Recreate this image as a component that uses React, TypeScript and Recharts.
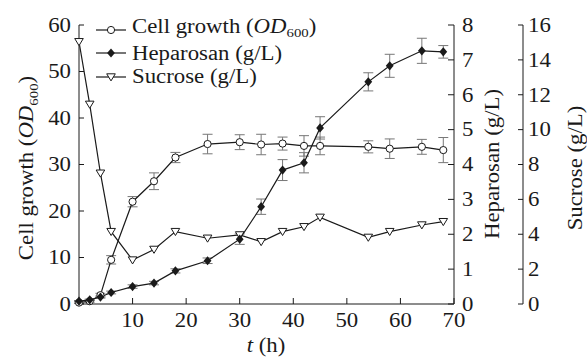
import React from 'react'
import {
  ComposedChart,
  Line,
  XAxis,
  YAxis,
  ErrorBar,
  Legend,
} from 'recharts'

const times = [0, 2, 4, 6, 10, 14, 18, 24, 30, 34, 38, 42, 45, 54, 58, 64, 68]
const cellGrowth = [0.3, 0.6, 1.9, 9.5, 22.0, 26.4, 31.5, 34.4, 34.8, 34.3, 34.5, 34.0, 34.0, 33.8, 33.4, 33.8, 33.1]
const cellGrowthErr = [0.2, 0.2, 0.4, 0.9, 1.1, 1.8, 1.1, 2.1, 1.6, 2.2, 1.4, 2.2, 1.9, 1.3, 2.1, 1.6, 2.7]
const heparosan = [0.08, 0.12, 0.2, 0.33, 0.5, 0.6, 0.95, 1.24, 1.86, 2.79, 3.84, 4.05, 5.05, 6.37, 6.83, 7.26, 7.23]
const heparosanErr = [0.02, 0.02, 0.03, 0.04, 0.05, 0.05, 0.06, 0.08, 0.15, 0.22, 0.3, 0.29, 0.32, 0.26, 0.33, 0.36, 0.18]
const sucrose = [15.04, 11.45, 7.5, 4.15, 2.52, 3.13, 4.15, 3.77, 3.96, 3.57, 4.15, 4.43, 4.97, 3.82, 4.15, 4.53, 4.72]

const xTicks = [10, 20, 30, 40, 50, 60, 70]
const odTicks = [0, 10, 20, 30, 40, 50, 60]
const hepTicks = [0, 1, 2, 3, 4, 5, 6, 7, 8]
const sucTicks = [0, 2, 4, 6, 8, 10, 12, 14, 16]

const data = times.map((t, i) => ({
  t,
  od: cellGrowth[i],
  odErr: cellGrowthErr[i],
  hep: heparosan[i],
  hepErr: heparosanErr[i],
  suc: sucrose[i],
}))

// the reference type is Times, set a bit wide
const FONT = '"Liberation Serif", "Times New Roman", serif'
const FS = 20
const SX = 1.14
const INK = '#1a1a1a'

const Tick = ({ x, y, payload, anchor, dy }: any) => (
  <text
    transform={`translate(${x},${y}) scale(${SX},1)`}
    textAnchor={anchor}
    dy={dy}
    fontFamily={FONT}
    fontSize={FS}
    fill={INK}
  >
    {payload.value}
  </text>
)

const CircleMark = ({ cx, cy }: any) => (
  <circle cx={cx} cy={cy} r={3.6} fill="#fff" stroke={INK} strokeWidth={1} />
)
const DiamondMark = ({ cx, cy }: any) => (
  <polygon
    points={`${cx},${cy - 4.6} ${cx + 3.9},${cy} ${cx},${cy + 4.6} ${cx - 3.9},${cy}`}
    fill={INK}
  />
)
const TriangleMark = ({ cx, cy }: any) => (
  <polygon
    points={`${cx - 4.3},${cy - 3.2} ${cx + 4.3},${cy - 3.2} ${cx},${cy + 3.9}`}
    fill="#fff"
    stroke={INK}
    strokeWidth={1}
  />
)

const dot = (Mark: any) => (p: any) =>
  p.cx == null ? <g key={p.key} /> : <Mark key={p.key} cx={p.cx} cy={p.cy} />

const legendItems = [
  { key: 'od', mark: CircleMark },
  { key: 'hep', mark: DiamondMark },
  { key: 'suc', mark: TriangleMark },
]

function LegendText({ k }: { k: string }) {
  if (k === 'od')
    return (
      <>
        Cell growth (<i>OD</i>
        <sub style={{ fontSize: 13, verticalAlign: -4 }}>600</sub>)
      </>
    )
  if (k === 'hep') return <>Heparosan (g/L)</>
  return <>Sucrose (g/L)</>
}

function LegendBox() {
  return (
    <div style={{ fontFamily: FONT, fontSize: FS, color: INK, lineHeight: '23.5px' }}>
      {legendItems.map((it) => (
        <div key={it.key} style={{ display: 'flex', alignItems: 'center', height: 23.5 }}>
          <svg width={34} height={14} style={{ marginRight: 3 }}>
            <line x1={1} y1={7} x2={31} y2={7} stroke={INK} strokeWidth={1.2} />
            <it.mark cx={16} cy={7} />
          </svg>
          <span
            style={{
              display: 'inline-block',
              whiteSpace: 'nowrap',
              transform: `scaleX(${SX})`,
              transformOrigin: 'left center',
            }}
          >
            <LegendText k={it.key} />
          </span>
        </div>
      ))}
    </div>
  )
}

const rotT = (px: number, py: number) => `translate(${px},${py}) rotate(-90) scale(${SX},1)`

const LeftTitle = () => (
  <text transform={rotT(33, 168)} textAnchor="middle" fontFamily={FONT} fontSize={FS} fill={INK}>
    Cell growth (<tspan fontStyle="italic">OD</tspan>
    <tspan fontSize={13} dy={5}>600</tspan>
    <tspan dy={-5}>)</tspan>
  </text>
)

const RotTitle = ({ px, py, text }: { px: number; py: number; text: string }) => (
  <text transform={rotT(px, py)} textAnchor="middle" fontFamily={FONT} fontSize={FS} fill={INK}>
    {text}
  </text>
)

const XTitle = () => (
  <text
    transform={`translate(266,352) scale(${SX},1)`}
    textAnchor="middle"
    fontFamily={FONT}
    fontSize={FS}
    fill={INK}
  >
    <tspan fontStyle="italic">t</tspan> (h)
  </text>
)

export default function App() {
  return (
    <div style={{ position: 'absolute', left: 0, top: 0, background: '#fff' }}>
      <ComposedChart
        width={587}
        height={360}
        data={data}
        margin={{ top: 25, right: 0, bottom: 0, left: 0 }}
      >
        <XAxis
          dataKey="t"
          type="number"
          domain={[0, 70]}
          ticks={xTicks}
          height={56}
          tickSize={-6}
          tickMargin={15}
          tick={<Tick anchor="middle" dy="0.71em" />}
          stroke={INK}
          label={<XTitle />}
        />
        <YAxis
          yAxisId="od"
          domain={[0, 60]}
          ticks={odTicks}
          width={79}
          tickSize={-5}
          tickMargin={13}
          tick={<Tick anchor="end" dy="0.34em" />}
          stroke={INK}
          label={<LeftTitle />}
        />
        <YAxis
          yAxisId="hep"
          orientation="right"
          domain={[0, 8]}
          ticks={hepTicks}
          width={69}
          tickSize={-6}
          tickMargin={14}
          tick={<Tick anchor="start" dy="0.34em" />}
          stroke={INK}
          label={<RotTitle px={499} py={164} text="Heparosan (g/L)" />}
        />
        <YAxis
          yAxisId="suc"
          orientation="right"
          domain={[0, 16]}
          ticks={sucTicks}
          width={64}
          tickSize={-5}
          tickMargin={10}
          tick={<Tick anchor="start" dy="0.34em" />}
          stroke={INK}
          label={<RotTitle px={582} py={168} text="Sucrose (g/L)" />}
        />
        <Legend
          layout="vertical"
          align="center"
          verticalAlign="middle"
          wrapperStyle={{ left: 95, top: 18, width: 260 }}
          content={() => <LegendBox />}
        />
        <Line
          yAxisId="suc"
          dataKey="suc"
          stroke={INK}
          strokeWidth={1.2}
          dot={dot(TriangleMark)}
          isAnimationActive={false}
        />
        <Line
          yAxisId="od"
          dataKey="od"
          stroke={INK}
          strokeWidth={1.2}
          dot={dot(CircleMark)}
          isAnimationActive={false}
        >
          <ErrorBar dataKey="odErr" direction="y" width={5} stroke="#777" strokeWidth={1} />
        </Line>
        <Line
          yAxisId="hep"
          dataKey="hep"
          stroke={INK}
          strokeWidth={1.2}
          dot={dot(DiamondMark)}
          isAnimationActive={false}
        >
          <ErrorBar dataKey="hepErr" direction="y" width={5} stroke="#777" strokeWidth={1} />
        </Line>
      </ComposedChart>
    </div>
  )
}
